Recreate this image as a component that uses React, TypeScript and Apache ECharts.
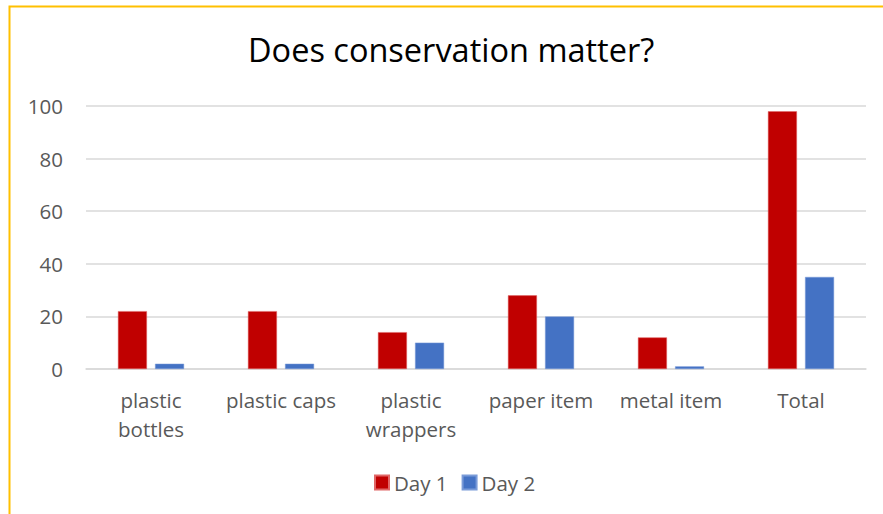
import React, { useEffect, useRef } from "react";
import * as echarts from "echarts";

const categories = ["plastic\nbottles", "plastic caps", "plastic\nwrappers", "paper item", "metal item", "Total"];
const day1 = [22, 22, 14, 28, 12, 98];
const day2 = [2, 2, 10, 20, 1, 35];
const seriesNames = ["Day 1", "Day 2"];
const titleText = "Does conservation matter?";

const FONT = "'Open Sans', 'Noto Sans', sans-serif";
const SMALL = 20.5;

export default function App() {
  const ref = useRef<HTMLDivElement>(null);
  useEffect(() => {
    if (!ref.current) return;
    const chart = echarts.init(ref.current, null, { renderer: "svg" });
    chart.setOption({
      animation: false,
      backgroundColor: "#ffffff",
      title: {
        text: titleText,
        left: 243,
        top: 28,
        textStyle: { fontFamily: FONT, fontSize: 32.5, fontWeight: "normal", color: "#000000" },
      },
      legend: {
        data: seriesNames,
        top: 467,
        left: 369,
        itemWidth: 14,
        itemHeight: 14,
        itemGap: 14,
        icon: "rect",
        textStyle: { fontFamily: FONT, fontSize: SMALL, color: "#595959" },
      },
      grid: { left: 86, right: 17, top: 106, bottom: 145, containLabel: false },
      xAxis: {
        type: "category",
        data: categories,
        axisLine: { lineStyle: { color: "#D9D9D9", width: 1.5 } },
        axisTick: { show: false },
        axisLabel: {
          interval: 0,
          fontFamily: FONT,
          fontSize: SMALL,
          color: "#595959",
          margin: 16,
          lineHeight: 29,
        },
      },
      yAxis: {
        type: "value",
        min: 0,
        max: 100,
        interval: 20,
        axisLine: { show: false },
        axisTick: { show: false },
        splitLine: { lineStyle: { color: "#D9D9D9", width: 1.5 } },
        axisLabel: { fontFamily: FONT, fontSize: SMALL, color: "#595959", margin: 23 },
      },
      series: [
        {
          name: seriesNames[0],
          type: "bar",
          data: day1,
          barWidth: 29,
          barGap: "28%",
          itemStyle: { color: "#C00000", borderColor: "#E06666", borderWidth: 0.5 },
        },
        {
          name: seriesNames[1],
          type: "bar",
          data: day2,
          barWidth: 29,
          itemStyle: { color: "#4472C4", borderColor: "#7A9BD8", borderWidth: 0.5 },
        },
      ],
      graphic: [
        {
          type: "rect",
          shape: { x: 9.5, y: 6.5, width: 900, height: 600 },
          style: { fill: "none", stroke: "#FFC000", lineWidth: 2 },
          silent: true,
        },
      ],
    });
    return () => chart.dispose();
  }, []);
  return (
    <div
      ref={ref}
      style={{ position: "fixed", left: 0, top: 0, width: 883, height: 514 }}
    />
  );
}
